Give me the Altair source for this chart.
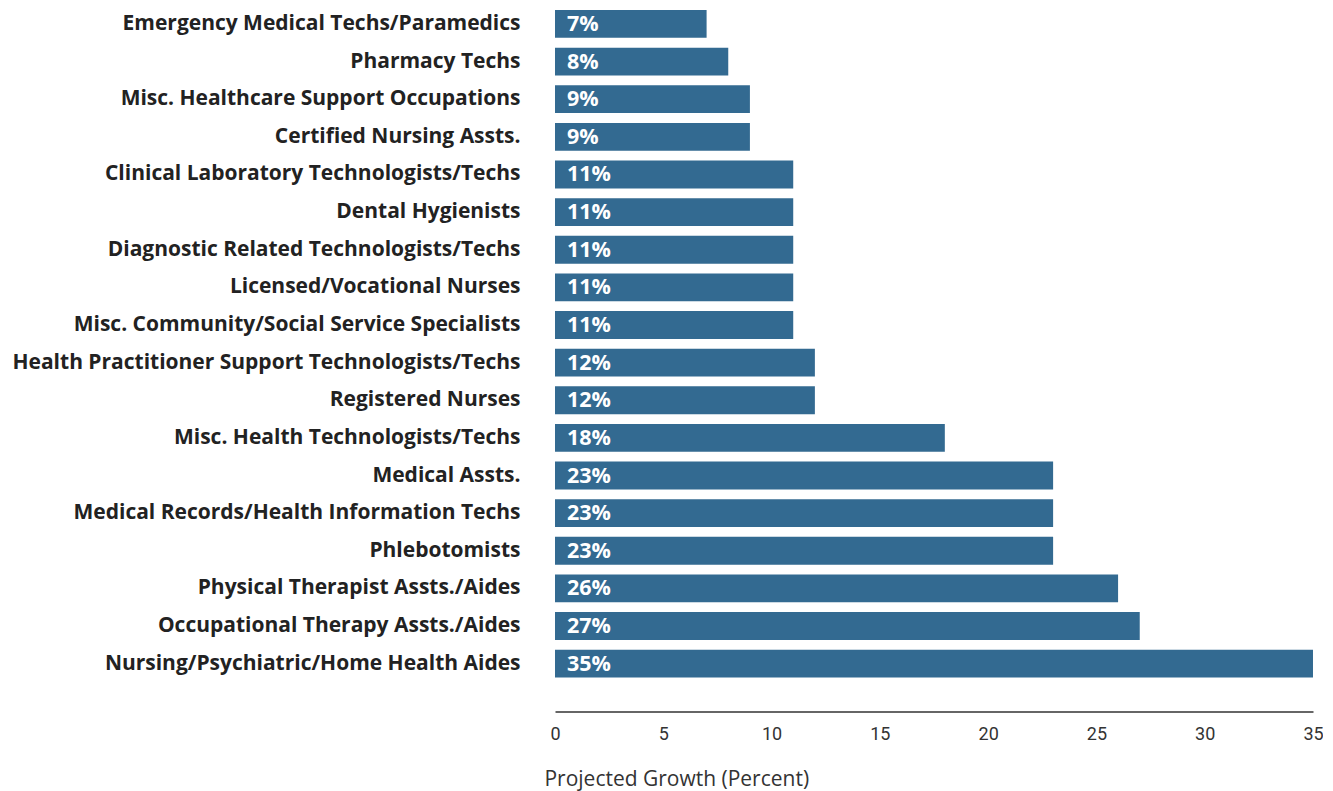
import altair as alt
import pandas as pd

occupations = [
    "Emergency Medical Techs/Paramedics",
    "Pharmacy Techs",
    "Misc. Healthcare Support Occupations",
    "Certified Nursing Assts.",
    "Clinical Laboratory Technologists/Techs",
    "Dental Hygienists",
    "Diagnostic Related Technologists/Techs",
    "Licensed/Vocational Nurses",
    "Misc. Community/Social Service Specialists",
    "Health Practitioner Support Technologists/Techs",
    "Registered Nurses",
    "Misc. Health Technologists/Techs",
    "Medical Assts.",
    "Medical Records/Health Information Techs",
    "Phlebotomists",
    "Physical Therapist Assts./Aides",
    "Occupational Therapy Assts./Aides",
    "Nursing/Psychiatric/Home Health Aides",
]
growth = [7, 8, 9, 9, 11, 11, 11, 11, 11, 12, 12, 18, 23, 23, 23, 26, 27, 35]
x_ticks = [0, 5, 10, 15, 20, 25, 30, 35]

df = pd.DataFrame({"occupation": occupations, "growth": growth})
df["label"] = df["growth"].astype(str) + "%"

FONT = "Open Sans"
TICK_FONT = "Roboto"

y_enc = alt.Y(
    "occupation:N",
    sort=occupations,
    title=None,
    scale=alt.Scale(paddingInner=0.26, paddingOuter=0),
    axis=alt.Axis(
        labelFont=FONT,
        labelFontSize=21,
        labelFontWeight="bold",
        labelColor="#222222",
        labelPadding=35,
        labelLimit=600,
        ticks=False,
        domain=False,
    ),
)

x_enc = alt.X(
    "growth:Q",
    title="Projected Growth (Percent)",
    scale=alt.Scale(domain=[0, 35], nice=False),
    axis=alt.Axis(
        values=x_ticks,
        offset=34,
        grid=False,
        ticks=False,
        labelFlush=False,
        domainColor="#333333",
        domainWidth=1.5,
        labelFont=TICK_FONT,
        labelFontSize=18,
        labelColor="#333333",
        labelPadding=14,
        titleFont=FONT,
        titleFontSize=21,
        titleFontWeight="normal",
        titleColor="#333333",
        titleAnchor="start",
        titleAlign="left",
        titleX=-11,
        titleY=68,
        titleBaseline="middle",
    ),
)

bars = alt.Chart(df).mark_bar(color="#336a91").encode(x=x_enc, y=y_enc)

labels = alt.Chart(df).mark_text(
    align="left", baseline="middle", dx=12, dy=1,
    font=FONT, fontSize=21.5, fontWeight="bold", color="white",
).encode(
    x=alt.value(0),
    y=alt.Y("occupation:N", sort=occupations),
    text="label:N",
)

chart = alt.layer(bars, labels).properties(
    width=758,
    height=667.6,
    background="white",
    autosize=alt.AutoSizeParams(type="none"),
    padding={"left": 547, "top": 2, "right": 10, "bottom": 118},
).configure_view(strokeWidth=0, stroke="transparent")

chart.save("out.html", embed_options={"renderer": "svg", "actions": False})
